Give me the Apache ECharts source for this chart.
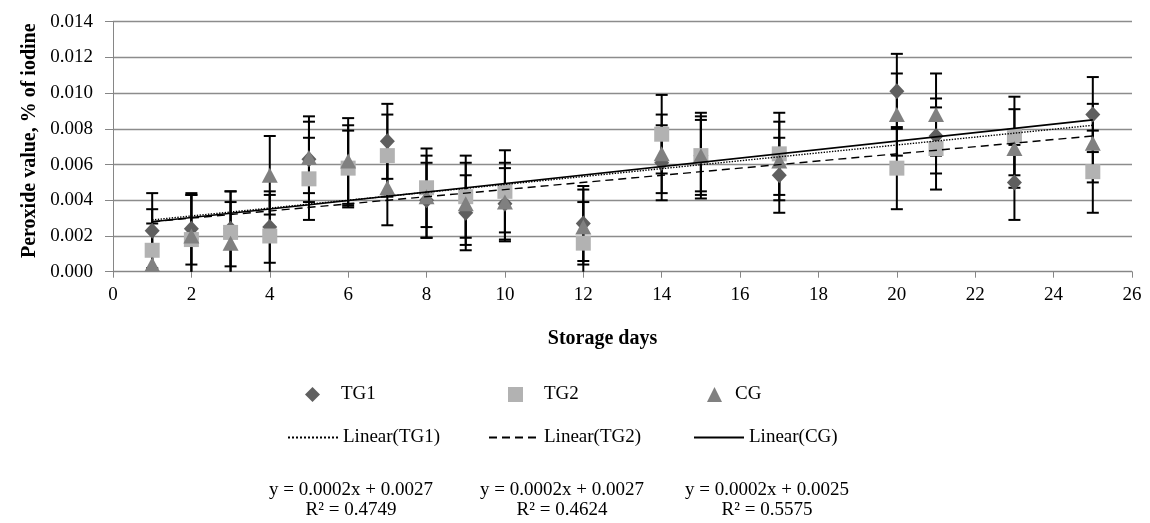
<!DOCTYPE html>
<html>
<head>
<meta charset="utf-8">
<script src="https://cdn.jsdelivr.net/npm/echarts@6/dist/echarts.min.js"></script>
<style>html,body{margin:0;padding:0;background:#fff;}#c{width:1150px;height:523px;}</style>
</head>
<body>
<div id="c"></div>
<script>
// ---- data ----
const days = [1, 2, 3, 4, 5, 6, 7, 8, 9, 10, 12, 14, 15, 17, 20, 21, 23, 25];
const tg1 = [0.0023, 0.0024, 0.0024, 0.0025, 0.0063, 0.0059, 0.0073, 0.0040, 0.0033, 0.0038, 0.0027, 0.0061, 0.0065, 0.0054, 0.0101, 0.0076, 0.0050, 0.0088];
const tg1Err = [0.0021, 0.0020, 0.0021, 0.0020, 0.0024, 0.0023, 0.0021, 0.0021, 0.0021, 0.0020, 0.0021, 0.0021, 0.0022, 0.0021, 0.0021, 0.0021, 0.0021, 0.0021];
const tg2 = [0.0012, 0.0018, 0.0022, 0.0020, 0.0052, 0.0058, 0.0065, 0.0047, 0.0042, 0.0045, 0.0016, 0.0077, 0.0065, 0.0066, 0.0058, 0.0069, 0.0076, 0.0056];
const tg2Err = [0.0023, 0.0025, 0.0023, 0.0023, 0.0023, 0.0021, 0.0023, 0.0022, 0.0023, 0.0023, 0.0023, 0.0022, 0.0024, 0.0023, 0.0023, 0.0023, 0.0022, 0.0023];
const cg = [0.0004, 0.0020, 0.0016, 0.0054, 0.0064, 0.0062, 0.0047, 0.0042, 0.0038, 0.0039, 0.0025, 0.0066, 0.0065, 0.0062, 0.0088, 0.0088, 0.0069, 0.0072];
const cgErr = [0.0023, 0.0023, 0.0023, 0.0022, 0.0020, 0.0024, 0.0021, 0.0023, 0.0023, 0.0022, 0.0021, 0.0022, 0.0020, 0.0022, 0.0023, 0.0023, 0.0022, 0.0022];
// linear trend line end points (x = first and last storage day)
const trendTG1 = [[1, 0.0029], [25, 0.0082]];
const trendTG2 = [[1, 0.0028], [25, 0.0076]];
const trendCG = [[1, 0.0028], [25, 0.0085]];
const seriesNames = ['TG1', 'TG2', 'CG'];
const trendNames = ['Linear(TG1)', 'Linear(TG2)', 'Linear(CG)'];
const equations = ['y = 0.0002x + 0.0027', 'y = 0.0002x + 0.0027', 'y = 0.0002x + 0.0025'];
const rSquared = ['R² = 0.4749', 'R² = 0.4624', 'R² = 0.5575'];
const xTicks = {min: 0, max: 26, interval: 2};
const yTicks = {min: 0, max: 0.014, interval: 0.002};

// ---- chart ----
const FONT = '"Liberation Serif", "Times New Roman", serif';
const chart = echarts.init(document.getElementById('c'), null, {renderer: 'canvas'});

function pts(vals, errs) { return days.map((d, i) => [d, vals[i], errs[i]]); }

function errRender(params, api) {
  const x = api.value(0), y = api.value(1), e = api.value(2);
  const top = api.coord([x, y + e]);
  const lowV = y - e;
  const bot = api.coord([x, Math.max(lowV, 0)]);
  const hw = 6;
  const st = {stroke: '#000', lineWidth: 2};
  const children = [
    {type: 'line', shape: {x1: top[0], y1: top[1], x2: bot[0], y2: bot[1]}, style: st},
    {type: 'line', shape: {x1: top[0] - hw, y1: top[1], x2: top[0] + hw, y2: top[1]}, style: st}
  ];
  if (lowV >= 0) children.push({type: 'line', shape: {x1: bot[0] - hw, y1: bot[1], x2: bot[0] + hw, y2: bot[1]}, style: st});
  return {type: 'group', children};
}

const colors = ['#5f5f5f', '#b2b2b2', '#808080'];
const symbols = ['diamond', 'rect', 'triangle'];
const symSizes = [[15, 16], [15, 15], [16, 15]];
const scatterData = [pts(tg1, tg1Err), pts(tg2, tg2Err), pts(cg, cgErr)];
const trends = [trendTG1, trendTG2, trendCG];
const lineTypes = ['dotted', [8, 5], 'solid'];

const series = [];
scatterData.forEach((d, i) => {
  series.push({type: 'custom', name: seriesNames[i] + ' err', data: d, encode: {x: 0, y: 1},
    renderItem: errRender, z: 1, silent: true});
});
scatterData.forEach((d, i) => {
  series.push({type: 'scatter', name: seriesNames[i], data: d.map(p => [p[0], p[1]]),
    symbol: symbols[i], symbolSize: symSizes[i], itemStyle: {color: colors[i], opacity: 1}, z: 2});
});
trends.forEach((t, i) => {
  series.push({type: 'line', name: trendNames[i], data: t, symbol: 'none', showSymbol: false,
    itemStyle: {color: '#000'},
    lineStyle: {color: '#000', width: i === 2 ? 1.6 : 1.4, type: lineTypes[i]}, z: 3});
});

const legendMarkX = [300, 503, 702];
const legendLineX = [282, 483, 688];
const legends = [];
seriesNames.forEach((n, i) => {
  legends.push({data: [n], left: legendMarkX[i], top: 380, itemWidth: 15, itemHeight: 15,
    textStyle: {fontFamily: FONT, fontSize: 19, color: '#000', padding: [0, 0, 0, i === 2 ? 8 : 16]},
    selectedMode: false});
});
trendNames.forEach((n, i) => {
  legends.push({data: [n], left: legendLineX[i], top: 423, itemWidth: 50, itemHeight: 12,
    itemStyle: {opacity: 0, color: 'rgba(0,0,0,0)', borderWidth: 0},
    textStyle: {fontFamily: FONT, fontSize: 19, color: '#000'}, selectedMode: false});
});

const eqCenters = [351, 562, 767];
const graphics = [];
equations.forEach((t, i) => {
  graphics.push({type: 'text', x: eqCenters[i], y: 490,
    style: {text: t, font: '19px ' + FONT, fill: '#000', align: 'center', verticalAlign: 'middle'}});
  graphics.push({type: 'text', x: eqCenters[i], y: 510,
    style: {text: rSquared[i], font: '19px ' + FONT, fill: '#000', align: 'center', verticalAlign: 'middle'}});
});

chart.setOption({
  animation: false,
  backgroundColor: '#fff',
  grid: {left: 113, right: 18, top: 21.7, bottom: 251.3, containLabel: false},
  xAxis: {
    type: 'value', min: xTicks.min, max: xTicks.max, interval: xTicks.interval,
    name: 'Storage days', nameLocation: 'middle', nameGap: 57,
    nameTextStyle: {fontFamily: FONT, fontSize: 20, fontWeight: 'bold', color: '#000', padding: [0, 40, 0, 0]},
    axisLine: {show: true, lineStyle: {color: '#868686', width: 1}},
    axisTick: {show: true, inside: false, length: 6, lineStyle: {color: '#868686'}},
    axisLabel: {fontFamily: FONT, fontSize: 19, color: '#000', margin: 14},
    splitLine: {show: false}
  },
  yAxis: {
    type: 'value', min: yTicks.min, max: yTicks.max, interval: yTicks.interval,
    name: 'Peroxide value, % of iodine', nameLocation: 'middle', nameGap: 67, nameRotate: 90,
    nameTextStyle: {fontFamily: FONT, fontSize: 20, fontWeight: 'bold', color: '#000', padding: [0, 0, 0, 12]},
    axisLine: {show: true, lineStyle: {color: '#868686', width: 1}},
    axisTick: {show: true, inside: false, length: 8, lineStyle: {color: '#868686'}},
    axisLabel: {fontFamily: FONT, fontSize: 19, color: '#000', margin: 20, formatter: v => v.toFixed(3)},
    splitLine: {show: true, lineStyle: {color: '#8c8c8c', width: 1.3}}
  },
  legend: legends,
  graphic: graphics,
  series: series
});
</script>
</body>
</html>
